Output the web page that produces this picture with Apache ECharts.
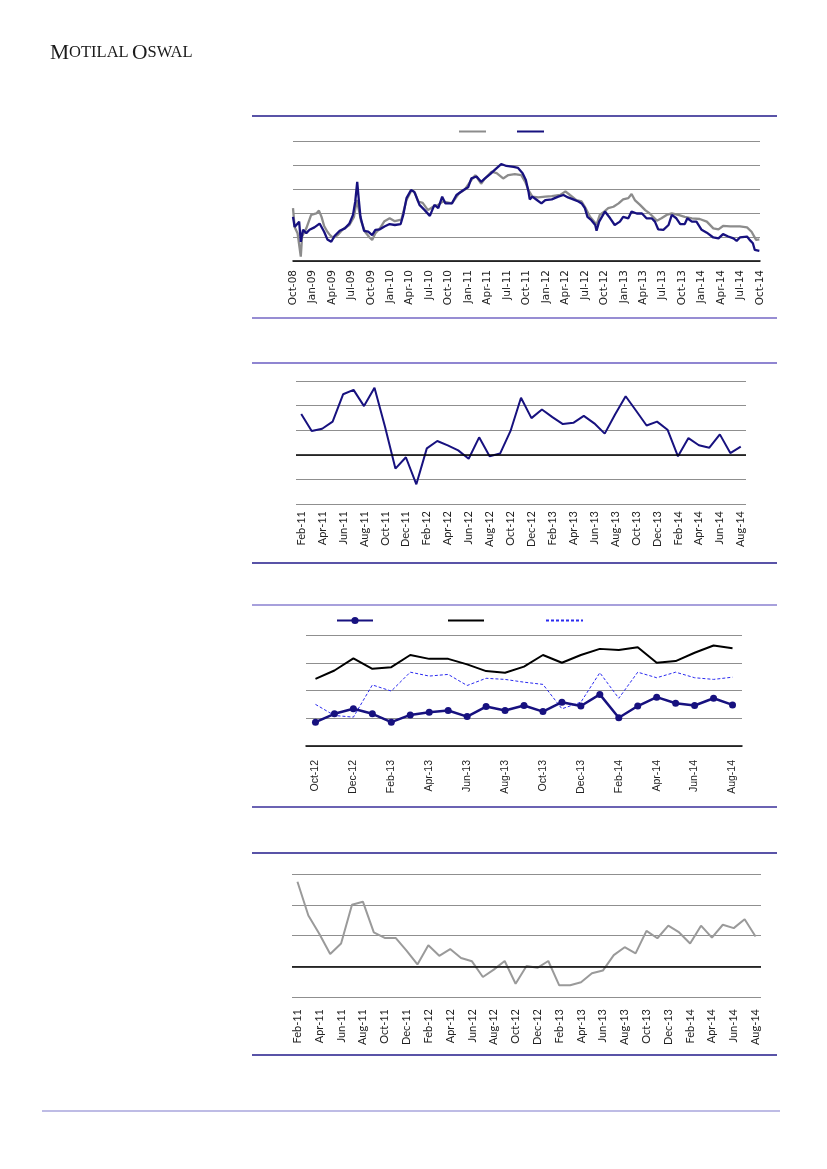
<!DOCTYPE html>
<html>
<head>
<meta charset="utf-8">
<script src="https://cdn.jsdelivr.net/npm/echarts@6/dist/echarts.min.js"></script>
<style>html,body{margin:0;padding:0;background:#fff}#c{width:827px;height:1169px}</style>
</head>
<body>
<div id="c"></div>
<script>
// ---------- Chart 1 (daily, Oct-08 .. Oct-14), x = months since Oct-08 ----------
const ticks1 = ['Oct-08','Jan-09','Apr-09','Jul-09','Oct-09','Jan-10','Apr-10','Jul-10','Oct-10','Jan-11','Apr-11','Jul-11','Oct-11','Jan-12','Apr-12','Jul-12','Oct-12','Jan-13','Apr-13','Jul-13','Oct-13','Jan-14','Apr-14','Jul-14','Oct-14'];
const graySeries1 = [[0,11.0],[0.25,7.1],[0.7,5.8],[1.2,0.9],[1.4,5.1],[2.05,6.8],[2.8,9.6],[3.6,9.9],[4.0,10.5],[4.4,9.2],[4.8,7.3],[5.3,6.1],[5.7,5.4],[6.2,4.8],[6.9,5.4],[7.7,6.6],[8.7,7.5],[9.4,9.2],[9.85,12.7],[10.1,11.0],[10.5,8.3],[11.1,6.1],[11.8,4.9],[12.2,4.4],[12.7,5.8],[13.4,6.8],[14.1,8.3],[14.9,8.9],[15.7,8.3],[16.7,8.6],[17.5,12.7],[18.3,14.8],[18.8,14.2],[19.3,12.4],[20.0,12.1],[20.8,10.6],[21.6,11.3],[22.4,11.7],[23.1,12.4],[23.4,12.7],[24.5,12.0],[25.6,14.1],[26.5,14.9],[27.3,16.5],[28.1,17.9],[29.0,16.1],[29.6,17.2],[30.6,18.6],[31.4,18.3],[32.4,17.2],[33.2,17.9],[34.2,18.1],[35.2,17.9],[35.8,16.5],[36.3,14.8],[36.9,13.4],[37.8,13.25],[38.9,13.4],[39.9,13.5],[41.2,13.75],[42.0,14.5],[42.7,13.75],[43.7,12.7],[44.5,12.4],[45.0,11.3],[45.8,9.2],[46.8,7.6],[47.3,9.6],[47.8,10.1],[48.6,11.0],[49.4,11.3],[50.2,12.0],[50.9,12.85],[51.7,13.1],[52.2,13.96],[52.7,12.7],[53.5,11.7],[54.3,10.6],[55.0,9.9],[56.1,8.4],[56.8,8.9],[57.6,9.6],[58.4,9.9],[59.4,9.6],[60.4,9.2],[61.5,8.9],[62.7,8.75],[63.8,8.2],[64.8,6.8],[65.6,6.6],[66.3,7.3],[67.4,7.2],[68.9,7.2],[70.0,7.0],[70.7,6.1],[71.4,4.4],[71.9,4.5]];
const navySeries1 = [[0,9.2],[0.25,7.1],[0.5,6.8],[0.95,8.2],[1.2,4.0],[1.55,6.5],[2.05,5.8],[2.55,6.5],[3.3,7.0],[4.1,7.8],[4.4,7.5],[4.8,6.1],[5.3,4.5],[5.9,4.0],[6.4,5.2],[7.2,6.3],[8.0,6.8],[8.7,7.8],[9.25,9.6],[9.6,12.4],[9.9,16.5],[10.1,13.4],[10.4,9.2],[10.95,6.3],[11.6,6.1],[12.2,5.4],[12.7,6.5],[13.4,6.6],[14.1,7.2],[14.9,7.7],[15.7,7.5],[16.6,7.7],[17.0,9.6],[17.5,13.1],[18.2,14.8],[18.7,14.4],[19.0,13.4],[19.5,11.7],[20.3,10.6],[21.1,9.4],[21.8,11.7],[22.4,11.0],[23.0,13.4],[23.5,12.0],[24.5,12.0],[25.2,13.75],[26.3,14.8],[27.0,15.35],[27.5,17.2],[28.3,17.6],[29.0,16.5],[29.6,17.2],[30.4,18.1],[31.1,19.0],[32.1,20.2],[32.9,19.8],[34.0,19.6],[34.7,19.4],[35.4,18.3],[35.9,16.9],[36.3,14.5],[36.5,12.85],[36.9,13.4],[37.6,12.7],[38.3,12.0],[38.9,12.7],[39.9,12.85],[40.9,13.4],[41.7,13.75],[42.4,13.25],[43.2,12.85],[44.0,12.4],[44.5,12.0],[45.0,11.0],[45.4,9.2],[46.0,8.5],[46.6,7.5],[46.8,6.3],[47.2,8.2],[47.8,9.6],[48.1,10.3],[48.9,8.9],[49.6,7.5],[50.4,8.2],[50.9,9.2],[51.7,8.9],[52.2,10.3],[53.0,9.9],[53.8,9.9],[54.5,8.9],[55.3,8.9],[55.8,8.2],[56.3,6.6],[57.1,6.5],[57.9,7.5],[58.4,9.6],[59.1,8.9],[59.7,7.7],[60.4,7.7],[60.8,8.9],[61.5,8.2],[62.2,8.2],[63.0,6.5],[63.8,5.9],[64.8,4.9],[65.6,4.7],[66.3,5.6],[67.1,5.1],[67.9,4.7],[68.4,4.2],[68.9,4.9],[70.0,5.1],[70.4,4.4],[70.9,3.7],[71.2,2.3],[71.9,2.1]];

// ---------- Chart 2 & 4 (monthly Feb-11 .. Aug-14) ----------
const months24 = ['Feb-11','Mar-11','Apr-11','May-11','Jun-11','Jul-11','Aug-11','Sep-11','Oct-11','Nov-11','Dec-11','Jan-12','Feb-12','Mar-12','Apr-12','May-12','Jun-12','Jul-12','Aug-12','Sep-12','Oct-12','Nov-12','Dec-12','Jan-13','Feb-13','Mar-13','Apr-13','May-13','Jun-13','Jul-13','Aug-13','Sep-13','Oct-13','Nov-13','Dec-13','Jan-14','Feb-14','Mar-14','Apr-14','May-14','Jun-14','Jul-14','Aug-14'];
const values2 = [16.6,9.7,10.6,13.5,24.6,26.4,19.8,27.3,11.5,-5.6,-1.0,-12.0,2.6,5.6,3.8,1.8,-1.6,7.1,-0.6,0.5,9.7,23.2,14.9,18.4,15.3,12.5,13.0,15.8,12.8,8.6,16.5,23.8,17.9,11.9,13.5,10.2,-0.6,6.8,3.9,2.9,8.3,0.7,3.3];
const values4 = [27.5,16.5,10.6,4.0,7.4,20.0,21.0,11.0,9.2,9.2,5.1,0.6,6.8,3.4,5.6,2.7,1.6,-3.5,-1.1,1.7,-5.7,0.1,-0.5,1.7,-6.2,-6.2,-5.2,-2.3,-1.4,3.6,6.2,4.2,11.5,9.1,13.2,11.0,7.4,13.2,9.3,13.5,12.4,15.3,9.7];

// ---------- Chart 3 (monthly Oct-12 .. Aug-14) ----------
const months3 = ['Oct-12','Nov-12','Dec-12','Jan-13','Feb-13','Mar-13','Apr-13','May-13','Jun-13','Jul-13','Aug-13','Sep-13','Oct-13','Nov-13','Dec-13','Jan-14','Feb-14','Mar-14','Apr-14','May-14','Jun-14','Jul-14','Aug-14'];
const markerValues3 = [4.3,5.8,6.7,5.8,4.3,5.6,6.1,6.4,5.3,7.1,6.4,7.3,6.2,7.9,7.2,9.3,5.1,7.2,8.8,7.7,7.3,8.6,7.4];
const blackValues3 = [12.1,13.6,15.8,13.9,14.2,16.4,15.7,15.7,14.7,13.5,13.2,14.3,16.4,15.0,16.4,17.5,17.3,17.8,15.0,15.3,16.8,18.1,17.6];
const dashedValues3 = [7.5,5.5,5.2,11.0,9.9,13.3,12.6,12.9,10.9,12.2,12.0,11.5,11.1,6.7,7.9,13.2,8.6,13.3,12.3,13.3,12.3,12.0,12.4];

const NAVY = '#17117f', GRID = '#8f8f8f';
const chart = echarts.init(document.getElementById('c'), null, {renderer:'canvas', width:827, height:1169});

function rule(y, color, x1, x2, w){
  return {type:'line', shape:{x1:x1||252, y1:y, x2:x2||777, y2:y}, style:{stroke:color, lineWidth:w||1.3}, silent:true};
}
const hideY = {axisLabel:{show:false}, axisLine:{show:false}, axisTick:{show:false}};
function lbl(font, size, margin){
  return {rotate:90, fontFamily:font, fontSize:size, color:'#222', margin:margin};
}
const zeroLine = {silent:true, symbol:'none', animation:false, label:{show:false}, lineStyle:{color:'#000', width:1.5, type:'solid'}, data:[{yAxis:0}]};
function leg(name, left, top, w, hideSymbol){
  const o = {data:[name], left:left, top:top, itemWidth:w, itemHeight:9, padding:0, selectedMode:false, formatter:()=>''};
  if (hideSymbol) o.itemStyle = {opacity:0};
  return o;
}

chart.setOption({
  animation:false,
  backgroundColor:'#fff',
  graphic:[
    {type:'text', left:50, top:42, style:{
      text:'{b|M}{s|OTILAL} {b|O}{s|SWAL}',
      rich:{b:{fontFamily:'Liberation Serif', fontSize:21.5, fill:'#1a1a1a'}, s:{fontFamily:'Liberation Serif', fontSize:16.5, fill:'#1a1a1a'}}
    }},
    rule(116,'#221a8a'), rule(318,'#7467c5'),
    rule(363,'#6a5cc2'), rule(563,'#221a8a'),
    rule(605,'#8a80d0'), rule(807,'#3a2f9a'),
    rule(853,'#221a8a'), rule(1055,'#221a8a'),
    rule(1111,'#a8a6dc',42,780,1.6)
  ],
  legend:[
    leg('Series A', 458, 127, 27, true),
    leg('Series B', 516, 127, 27, true),
    leg('Series C', 336, 616, 36, false),
    leg('Series D', 447, 616, 36, true),
    leg('Series E', 545, 616, 37, true)
  ],
  grid:[
    {left:293, top:141, width:467, height:120},
    {left:296, top:381, width:450, height:123},
    {left:306, top:635, width:436, height:111},
    {left:292, top:874, width:469, height:123}
  ],
  xAxis:[
    {gridIndex:0, type:'value', min:0, max:72, interval:3, splitLine:{show:false}, axisTick:{show:false},
     axisLine:{show:true, lineStyle:{color:'#000', width:1.5}},
     axisLabel:Object.assign(lbl('DejaVu Sans',10.5,9), {formatter:v=>ticks1[Math.round(v/3)]||''})},
    {gridIndex:1, type:'category', data:months24, boundaryGap:true, axisTick:{show:false}, axisLine:{show:false},
     axisLabel:Object.assign(lbl('Lato',11,7), {interval:1})},
    {gridIndex:2, type:'category', data:months3, boundaryGap:true, axisTick:{show:false},
     axisLine:{show:true, lineStyle:{color:'#000', width:1.5}},
     axisLabel:Object.assign(lbl('Liberation Sans',10.5,14), {interval:1})},
    {gridIndex:3, type:'category', data:months24, boundaryGap:true, axisTick:{show:false}, axisLine:{show:false},
     axisLabel:Object.assign(lbl('Lato',11,12), {interval:1})}
  ],
  yAxis:[
    Object.assign({gridIndex:0, type:'value', min:0, max:25, interval:5, splitLine:{lineStyle:{color:GRID, width:1}}}, hideY),
    Object.assign({gridIndex:1, type:'value', min:-20, max:30, interval:10, splitLine:{lineStyle:{color:GRID, width:1}}}, hideY),
    Object.assign({gridIndex:2, type:'value', min:0, max:20, interval:5, splitLine:{lineStyle:{color:GRID, width:1}}}, hideY),
    Object.assign({gridIndex:3, type:'value', min:-10, max:30, interval:10, splitLine:{lineStyle:{color:GRID, width:1}}}, hideY)
  ],
  series:[
    {name:'Series A', type:'line', xAxisIndex:0, yAxisIndex:0, data:graySeries1, symbol:'none', color:'#8c8c8c', lineStyle:{color:'#8c8c8c', width:2.3}},
    {name:'Series B', type:'line', xAxisIndex:0, yAxisIndex:0, data:navySeries1, symbol:'none', color:NAVY, lineStyle:{color:NAVY, width:2.3}},
    {name:'Series 2', type:'line', xAxisIndex:1, yAxisIndex:1, data:values2, symbol:'none', color:NAVY, lineStyle:{color:NAVY, width:2}, markLine:zeroLine},
    {name:'Series D', type:'line', xAxisIndex:2, yAxisIndex:2, data:blackValues3, symbol:'none', color:'#000', lineStyle:{color:'#000', width:2}},
    {name:'Series E', type:'line', xAxisIndex:2, yAxisIndex:2, data:dashedValues3, symbol:'none', color:'#2a2af0', lineStyle:{color:'#2a2af0', width:1, type:[3,2]}},
    {name:'Series C', type:'line', xAxisIndex:2, yAxisIndex:2, data:markerValues3, symbol:'circle', symbolSize:7, color:NAVY, itemStyle:{color:NAVY}, lineStyle:{color:NAVY, width:2.5}},
    {name:'Series 4', type:'line', xAxisIndex:3, yAxisIndex:3, data:values4, symbol:'none', color:'#9a9a9a', lineStyle:{color:'#9a9a9a', width:2}, markLine:zeroLine}
  ]
});
</script>
</body>
</html>
